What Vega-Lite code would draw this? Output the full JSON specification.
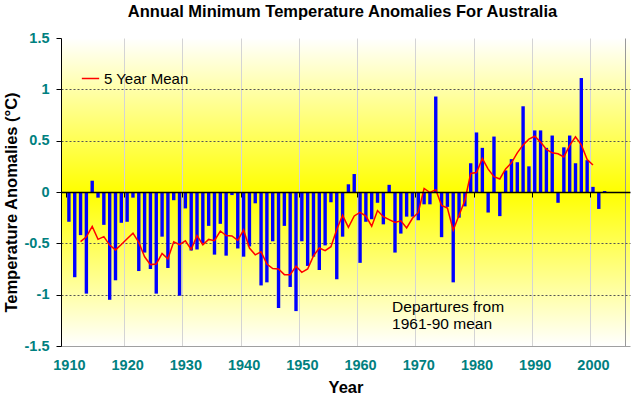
{
  "$schema": "https://vega.github.io/schema/vega-lite/v6.json",
  "width": 569,
  "height": 308,
  "autosize": {"type": "none"},
  "padding": {"left": 61, "top": 38, "right": 10, "bottom": 52},
  "background": "white",
  "title": {
    "text": "Annual Minimum Temperature Anomalies For Australia",
    "fontSize": 16.5,
    "fontWeight": "bold",
    "color": "black",
    "anchor": "middle",
    "frame": "group",
    "offset": 10,
    "dx": -3
  },
  "datasets": {
    "bars": [
      {"year": 1910, "anomaly": -0.29}, {"year": 1911, "anomaly": -0.83}, {"year": 1912, "anomaly": -0.42},
      {"year": 1913, "anomaly": -0.99}, {"year": 1914, "anomaly": 0.11}, {"year": 1915, "anomaly": -0.055},
      {"year": 1916, "anomaly": -0.32}, {"year": 1917, "anomaly": -1.05}, {"year": 1918, "anomaly": -0.86},
      {"year": 1919, "anomaly": -0.30}, {"year": 1920, "anomaly": -0.29}, {"year": 1921, "anomaly": -0.055},
      {"year": 1922, "anomaly": -0.77}, {"year": 1923, "anomaly": -0.59}, {"year": 1924, "anomaly": -0.75},
      {"year": 1925, "anomaly": -0.99}, {"year": 1926, "anomaly": -0.435}, {"year": 1927, "anomaly": -0.74},
      {"year": 1928, "anomaly": -0.08}, {"year": 1929, "anomaly": -1.01}, {"year": 1930, "anomaly": -0.16},
      {"year": 1931, "anomaly": -0.57}, {"year": 1932, "anomaly": -0.56}, {"year": 1933, "anomaly": -0.50},
      {"year": 1934, "anomaly": -0.33}, {"year": 1935, "anomaly": -0.61}, {"year": 1936, "anomaly": -0.31},
      {"year": 1937, "anomaly": -0.62}, {"year": 1938, "anomaly": -0.03}, {"year": 1939, "anomaly": -0.55},
      {"year": 1940, "anomaly": -0.63}, {"year": 1941, "anomaly": -0.53}, {"year": 1942, "anomaly": -0.11},
      {"year": 1943, "anomaly": -0.91}, {"year": 1944, "anomaly": -0.88}, {"year": 1945, "anomaly": -0.48},
      {"year": 1946, "anomaly": -1.13}, {"year": 1947, "anomaly": -0.33}, {"year": 1948, "anomaly": -0.925},
      {"year": 1949, "anomaly": -1.16}, {"year": 1950, "anomaly": -0.48}, {"year": 1951, "anomaly": -0.72},
      {"year": 1952, "anomaly": -0.63}, {"year": 1953, "anomaly": -0.76}, {"year": 1954, "anomaly": -0.52},
      {"year": 1955, "anomaly": -0.10}, {"year": 1956, "anomaly": -0.85}, {"year": 1957, "anomaly": -0.435},
      {"year": 1958, "anomaly": 0.075}, {"year": 1959, "anomaly": 0.175}, {"year": 1960, "anomaly": -0.69},
      {"year": 1961, "anomaly": -0.29}, {"year": 1962, "anomaly": -0.265}, {"year": 1963, "anomaly": -0.105},
      {"year": 1964, "anomaly": -0.315}, {"year": 1965, "anomaly": 0.07}, {"year": 1966, "anomaly": -0.59},
      {"year": 1967, "anomaly": -0.405}, {"year": 1968, "anomaly": -0.24}, {"year": 1969, "anomaly": -0.24},
      {"year": 1970, "anomaly": -0.275}, {"year": 1971, "anomaly": -0.12}, {"year": 1972, "anomaly": -0.12},
      {"year": 1973, "anomaly": 0.93}, {"year": 1974, "anomaly": -0.44}, {"year": 1975, "anomaly": -0.145},
      {"year": 1976, "anomaly": -0.88}, {"year": 1977, "anomaly": -0.25}, {"year": 1978, "anomaly": -0.14},
      {"year": 1979, "anomaly": 0.28}, {"year": 1980, "anomaly": 0.58}, {"year": 1981, "anomaly": 0.43},
      {"year": 1982, "anomaly": -0.20}, {"year": 1983, "anomaly": 0.54}, {"year": 1984, "anomaly": -0.235},
      {"year": 1985, "anomaly": 0.21}, {"year": 1986, "anomaly": 0.32}, {"year": 1987, "anomaly": 0.29},
      {"year": 1988, "anomaly": 0.835}, {"year": 1989, "anomaly": 0.25}, {"year": 1990, "anomaly": 0.60},
      {"year": 1991, "anomaly": 0.60}, {"year": 1992, "anomaly": 0.43}, {"year": 1993, "anomaly": 0.55},
      {"year": 1994, "anomaly": -0.105}, {"year": 1995, "anomaly": 0.435}, {"year": 1996, "anomaly": 0.55},
      {"year": 1997, "anomaly": 0.28}, {"year": 1998, "anomaly": 1.11}, {"year": 1999, "anomaly": 0.31},
      {"year": 2000, "anomaly": 0.05}, {"year": 2001, "anomaly": -0.165}, {"year": 2002, "anomaly": 0.01}
    ],
    "mean": [
      {"year": 1912, "mean": -0.484}, {"year": 1913, "mean": -0.437}, {"year": 1914, "mean": -0.335},
      {"year": 1915, "mean": -0.461}, {"year": 1916, "mean": -0.435}, {"year": 1917, "mean": -0.517},
      {"year": 1918, "mean": -0.564}, {"year": 1919, "mean": -0.511}, {"year": 1920, "mean": -0.455},
      {"year": 1921, "mean": -0.401}, {"year": 1922, "mean": -0.491}, {"year": 1923, "mean": -0.631},
      {"year": 1924, "mean": -0.707}, {"year": 1925, "mean": -0.701}, {"year": 1926, "mean": -0.599},
      {"year": 1927, "mean": -0.651}, {"year": 1928, "mean": -0.485}, {"year": 1929, "mean": -0.512},
      {"year": 1930, "mean": -0.476}, {"year": 1931, "mean": -0.56}, {"year": 1932, "mean": -0.424},
      {"year": 1933, "mean": -0.514}, {"year": 1934, "mean": -0.462}, {"year": 1935, "mean": -0.474},
      {"year": 1936, "mean": -0.38}, {"year": 1937, "mean": -0.424}, {"year": 1938, "mean": -0.428},
      {"year": 1939, "mean": -0.472}, {"year": 1940, "mean": -0.37}, {"year": 1941, "mean": -0.546},
      {"year": 1942, "mean": -0.612}, {"year": 1943, "mean": -0.582}, {"year": 1944, "mean": -0.702},
      {"year": 1945, "mean": -0.746}, {"year": 1946, "mean": -0.749}, {"year": 1947, "mean": -0.805},
      {"year": 1948, "mean": -0.805}, {"year": 1949, "mean": -0.723}, {"year": 1950, "mean": -0.783},
      {"year": 1951, "mean": -0.75}, {"year": 1952, "mean": -0.622}, {"year": 1953, "mean": -0.546},
      {"year": 1954, "mean": -0.572}, {"year": 1955, "mean": -0.533}, {"year": 1956, "mean": -0.366},
      {"year": 1957, "mean": -0.227}, {"year": 1958, "mean": -0.345}, {"year": 1959, "mean": -0.233},
      {"year": 1960, "mean": -0.199}, {"year": 1961, "mean": -0.235}, {"year": 1962, "mean": -0.333},
      {"year": 1963, "mean": -0.181}, {"year": 1964, "mean": -0.241}, {"year": 1965, "mean": -0.269},
      {"year": 1966, "mean": -0.296}, {"year": 1967, "mean": -0.281}, {"year": 1968, "mean": -0.35},
      {"year": 1969, "mean": -0.256}, {"year": 1970, "mean": -0.199}, {"year": 1971, "mean": 0.035},
      {"year": 1972, "mean": -0.005}, {"year": 1973, "mean": 0.021}, {"year": 1974, "mean": -0.131},
      {"year": 1975, "mean": -0.157}, {"year": 1976, "mean": -0.371}, {"year": 1977, "mean": -0.227},
      {"year": 1978, "mean": -0.082}, {"year": 1979, "mean": 0.18}, {"year": 1980, "mean": 0.19},
      {"year": 1981, "mean": 0.326}, {"year": 1982, "mean": 0.223}, {"year": 1983, "mean": 0.149},
      {"year": 1984, "mean": 0.127}, {"year": 1985, "mean": 0.225}, {"year": 1986, "mean": 0.284},
      {"year": 1987, "mean": 0.381}, {"year": 1988, "mean": 0.459}, {"year": 1989, "mean": 0.515},
      {"year": 1990, "mean": 0.543}, {"year": 1991, "mean": 0.486}, {"year": 1992, "mean": 0.415},
      {"year": 1993, "mean": 0.382}, {"year": 1994, "mean": 0.372}, {"year": 1995, "mean": 0.342},
      {"year": 1996, "mean": 0.454}, {"year": 1997, "mean": 0.537}, {"year": 1998, "mean": 0.46},
      {"year": 1999, "mean": 0.317}, {"year": 2000, "mean": 0.263}
    ]
  },
  "resolve": {"axis": {"x": "independent", "y": "independent"}},
  "layer": [
    {
      "data": {"name": "bars"},
      "mark": {"type": "bar", "width": 3.4, "color": "#0000ff"},
      "encoding": {
        "x": {
          "field": "year",
          "type": "quantitative",
          "scale": {"domain": [1909.5, 2005.5], "nice": false, "zero": false},
          "axis": {
            "orient": "bottom",
            "values": [1910, 1920, 1930, 1940, 1950, 1960, 1970, 1980, 1990, 2000],
            "labelExpr": "'' + datum.value",
            "title": "Year",
            "titleFontSize": 16.5,
            "titleFontWeight": "bold",
            "titleColor": "black",
            "titlePadding": 8,
            "labelColor": "#008080",
            "labelFontWeight": "bold",
            "labelFontSize": 14.5,
            "labelPadding": 12,
            "labelFlush": false,
            "labelOverlap": false,
            "ticks": false,
            "grid": false,
            "domainColor": "#a0a0a0",
            "domainWidth": 1,
            "zindex": 0
          }
        },
        "y": {
          "field": "anomaly",
          "type": "quantitative",
          "scale": {"domain": [-1.5, 1.5], "nice": false, "zero": false},
          "axis": {
            "orient": "left",
            "values": [-1.5, -1, -0.5, 0, 0.5, 1, 1.5],
            "labelExpr": "'' + datum.value",
            "title": "Temperature Anomalies (°C)",
            "titleFontSize": 16.5,
            "titleFontWeight": "bold",
            "titleColor": "black",
            "titlePadding": 5,
            "titleY": 164,
            "labelColor": "#008080",
            "labelFontWeight": "bold",
            "labelFontSize": 14.5,
            "labelPadding": 7,
            "tickColor": "black",
            "tickSize": 5,
            "domainColor": "black",
            "domainWidth": 1,
            "grid": true,
            "gridColor": "#555555",
            "gridDash": [2, 2],
            "gridOpacity": {"condition": {"test": "abs(datum.value) == 0.5 || abs(datum.value) == 1", "value": 1}, "value": 0},
            "zindex": 0
          }
        }
      }
    },
    {
      "data": {"name": "mean"},
      "mark": {"type": "line", "strokeWidth": 1.5},
      "encoding": {
        "x": {
          "field": "year",
          "type": "quantitative",
          "axis": {
            "orient": "bottom",
            "values": [1919.5, 1929.5, 1939.5, 1949.5, 1959.5, 1969.5, 1979.5, 1989.5, 1999.5, 2005.5],
            "grid": true,
            "gridColor": {"condition": {"test": "datum.value > 2005", "value": "#999999"}, "value": "#d4d4d4"},
            "labels": false,
            "ticks": false,
            "domain": false,
            "title": null,
            "zindex": 0
          }
        },
        "y": {"field": "mean", "type": "quantitative", "axis": null},
        "color": {
          "datum": "5 Year Mean",
          "type": "nominal",
          "scale": {"range": ["#ff0000"]},
          "legend": {
            "title": null,
            "orient": "none",
            "legendX": 20,
            "legendY": 31,
            "padding": 0,
            "symbolType": "stroke",
            "symbolStrokeWidth": 1.5,
            "symbolSize": 300,
            "labelFontSize": 15,
            "labelColor": "black",
            "labelOffset": 4
          }
        }
      }
    },
    {
      "data": {"values": [{}]},
      "mark": {"type": "text", "text": ["Departures from", "1961-90 mean"], "align": "left", "baseline": "top", "fontSize": 15.5, "lineHeight": 17, "color": "black"},
      "encoding": {
        "x": {
          "datum": 1965.5,
          "type": "quantitative",
          "axis": {
            "orient": "bottom",
            "offset": -154,
            "values": [1909.5, 1919.5, 1929.5, 1939.5, 1949.5, 1959.5, 1969.5, 1979.5, 1989.5, 1999.5],
            "labels": false,
            "ticks": true,
            "tickSize": 5,
            "tickColor": "black",
            "domainColor": "black",
            "domainWidth": 1.3,
            "title": null,
            "grid": false,
            "zindex": 1
          }
        },
        "y": {"datum": -1.05, "type": "quantitative", "axis": null}
      }
    }
  ],
  "config": {
    "font": "Liberation Sans",
    "view": {
      "stroke": null,
      "fill": {
        "gradient": "linear",
        "x1": 0, "y1": 0, "x2": 0, "y2": 1,
        "stops": [
          {"offset": 0, "color": "#ffffff"},
          {"offset": 0.5, "color": "#ffff00"},
          {"offset": 1, "color": "#ffffff"}
        ]
      }
    }
  }
}
